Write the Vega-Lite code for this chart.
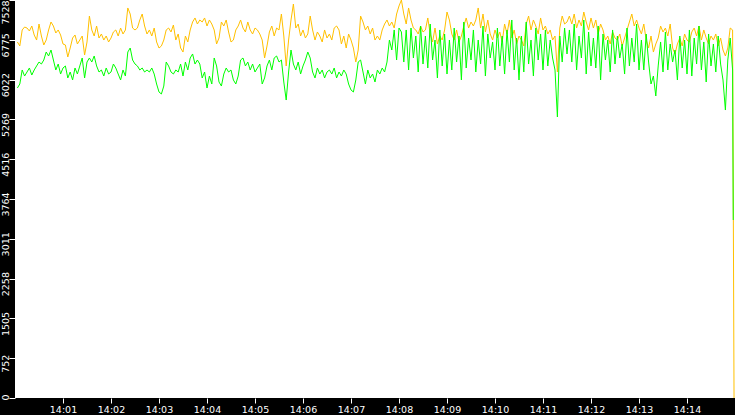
{
"$schema": "https://vega.github.io/schema/vega-lite/v6.json",
"width": 720, "height": 398,
"autosize": {"type": "none"},
"padding": {"left": 15, "top": 0, "right": 0, "bottom": 17},
"background": "black",
"config": {
  "view": {"fill": "white", "stroke": null},
  "line": {"invalid": "filter"},
  "axisX": {"title": null, "grid": false, "domain": false,
            "tickColor": "white", "tickSize": 5, "tickWidth": 1,
            "labelColor": "white", "labelFont": "DejaVu Sans", "labelFontSize": 9.5,
            "labelPadding": 1, "labelOverlap": false, "labelBound": false, "labelFlush": false},
  "axisY": {"title": null, "grid": false, "domain": false,
            "tickColor": "white", "tickSize": 6, "tickWidth": 1,
            "labelColor": "white", "labelFont": "DejaVu Sans", "labelFontSize": 9.5,
            "labelAngle": 270, "labelAlign": "center", "labelBaseline": "alphabetic",
            "labelPadding": 1, "labelOverlap": false, "labelBound": false, "labelFlush": false,
            "labelOffset": {"condition": [{"test": "datum.value == 7528", "value": 12}, {"test": "datum.value == 0", "value": -1}], "value": 5}}
},
"data": {"values": [
{"t":3,"o":6734,"g":5863},{"t":6,"o":6658,"g":5939},{"t":9,"o":6961,"g":6204},{"t":12,"o":7017,"g":6090},{"t":15,"o":6998,"g":6166},{"t":18,"o":6942,"g":6242},{"t":21,"o":7036,"g":6109},{"t":24,"o":6866,"g":6204},{"t":27,"o":6771,"g":6280},{"t":30,"o":7074,"g":6355},
{"t":33,"o":6847,"g":6317},{"t":36,"o":6677,"g":6393},{"t":39,"o":6771,"g":6544},{"t":42,"o":6961,"g":6469},{"t":45,"o":7112,"g":6582},{"t":48,"o":7036,"g":6393},{"t":51,"o":6904,"g":6204},{"t":54,"o":6961,"g":6317},{"t":57,"o":6866,"g":6128},{"t":60,"o":6696,"g":6242},
{"t":63,"o":6677,"g":6280},{"t":66,"o":6450,"g":6053},{"t":69,"o":6620,"g":6166},{"t":72,"o":6809,"g":6015},{"t":75,"o":6866,"g":6242},{"t":78,"o":6696,"g":6128},{"t":81,"o":6771,"g":6280},{"t":84,"o":6847,"g":6431},{"t":87,"o":6488,"g":6053},{"t":90,"o":6734,"g":6355},
{"t":93,"o":7225,"g":6431},{"t":96,"o":6961,"g":6355},{"t":99,"o":6847,"g":6469},{"t":102,"o":7036,"g":6280},{"t":105,"o":6809,"g":6166},{"t":108,"o":6885,"g":6204},{"t":111,"o":6771,"g":6090},{"t":114,"o":6847,"g":6242},{"t":117,"o":6734,"g":6128},{"t":120,"o":6809,"g":6166},
{"t":123,"o":6923,"g":6317},{"t":126,"o":6961,"g":6242},{"t":129,"o":6847,"g":6128},{"t":132,"o":6998,"g":6015},{"t":135,"o":6885,"g":6204},{"t":138,"o":6961,"g":6090},{"t":141,"o":7377,"g":6544},{"t":144,"o":7263,"g":6620},{"t":147,"o":6998,"g":6393},{"t":150,"o":6961,"g":6317},
{"t":153,"o":6998,"g":6280},{"t":156,"o":7150,"g":6204},{"t":159,"o":7263,"g":6242},{"t":162,"o":7036,"g":6166},{"t":165,"o":6885,"g":6204},{"t":168,"o":6961,"g":6166},{"t":171,"o":6847,"g":6242},{"t":174,"o":6998,"g":6128},{"t":177,"o":6734,"g":5939},{"t":180,"o":6620,"g":5788},
{"t":183,"o":6658,"g":5750},{"t":186,"o":6771,"g":5901},{"t":189,"o":6961,"g":6355},{"t":192,"o":6998,"g":6280},{"t":195,"o":6923,"g":6166},{"t":198,"o":7055,"g":6128},{"t":201,"o":6771,"g":6204},{"t":204,"o":6885,"g":6166},{"t":207,"o":6620,"g":6317},{"t":210,"o":6544,"g":6090},
{"t":213,"o":6847,"g":6355},{"t":216,"o":6734,"g":6204},{"t":219,"o":6961,"g":6431},{"t":222,"o":7112,"g":6507},{"t":225,"o":7188,"g":6317},{"t":228,"o":7074,"g":6393},{"t":231,"o":7150,"g":6317},{"t":234,"o":7112,"g":6053},{"t":237,"o":7188,"g":6166},{"t":240,"o":7036,"g":5863},
{"t":243,"o":7150,"g":6090},{"t":246,"o":7074,"g":5939},{"t":249,"o":6961,"g":6431},{"t":252,"o":6696,"g":6280},{"t":255,"o":6809,"g":5977},{"t":258,"o":7112,"g":5901},{"t":261,"o":7036,"g":6128},{"t":264,"o":7150,"g":6242},{"t":267,"o":6923,"g":6166},{"t":270,"o":6734,"g":6204},
{"t":273,"o":6771,"g":6015},{"t":276,"o":6961,"g":5939},{"t":279,"o":7036,"g":6090},{"t":282,"o":7150,"g":6393},{"t":285,"o":6998,"g":6431},{"t":288,"o":6923,"g":6280},{"t":291,"o":7112,"g":6355},{"t":294,"o":6961,"g":6204},{"t":297,"o":6885,"g":6317},{"t":300,"o":6998,"g":6166},
{"t":303,"o":6961,"g":6242},{"t":306,"o":6885,"g":6317},{"t":309,"o":6771,"g":5939},{"t":312,"o":6431,"g":6053},{"t":315,"o":6658,"g":6280},{"t":318,"o":6923,"g":6393},{"t":321,"o":7036,"g":6204},{"t":324,"o":6847,"g":6431},{"t":327,"o":6998,"g":6469},{"t":330,"o":6961,"g":6355},
{"t":333,"o":7263,"g":6393},{"t":336,"o":6847,"g":5977},{"t":339,"o":6280,"g":5636},{"t":342,"o":6771,"g":6166},{"t":345,"o":7150,"g":6582},{"t":348,"o":7452,"g":6317},{"t":351,"o":6998,"g":6204},{"t":354,"o":7074,"g":6355},{"t":357,"o":6847,"g":6128},{"t":360,"o":6961,"g":6280},
{"t":363,"o":6809,"g":6393},{"t":366,"o":6885,"g":6544},{"t":369,"o":7225,"g":6431},{"t":372,"o":6961,"g":6166},{"t":375,"o":6771,"g":6053},{"t":378,"o":6923,"g":6242},{"t":381,"o":6847,"g":6128},{"t":384,"o":6734,"g":6204},{"t":387,"o":6961,"g":6053},{"t":390,"o":6809,"g":6166},
{"t":393,"o":6885,"g":6204},{"t":396,"o":6771,"g":6128},{"t":399,"o":6998,"g":6242},{"t":402,"o":7036,"g":6053},{"t":405,"o":6961,"g":6166},{"t":408,"o":6696,"g":6090},{"t":411,"o":6847,"g":6204},{"t":414,"o":6620,"g":6128},{"t":417,"o":6885,"g":5939},{"t":420,"o":6771,"g":5826},
{"t":423,"o":6620,"g":5788},{"t":426,"o":6355,"g":6015},{"t":429,"o":6582,"g":6355},{"t":432,"o":7225,"g":6393},{"t":435,"o":7112,"g":6166},{"t":438,"o":6961,"g":5939},{"t":441,"o":7036,"g":6204},{"t":444,"o":6885,"g":6053},{"t":447,"o":6998,"g":6128},{"t":450,"o":6771,"g":5977},
{"t":453,"o":6847,"g":6204},{"t":456,"o":6771,"g":6128},{"t":459,"o":6961,"g":6242},{"t":462,"o":7074,"g":6166},{"t":465,"o":7150,"g":6355},{"t":468,"o":7036,"g":6771},{"t":471,"o":7112,"g":6582},{"t":474,"o":6998,"g":6961},{"t":477,"o":7263,"g":6393},{"t":480,"o":7415,"g":6998},
{"t":483,"o":7528,"g":6923},{"t":486,"o":7263,"g":6355},{"t":489,"o":7074,"g":6961},{"t":492,"o":7377,"g":6204},{"t":495,"o":7150,"g":6998},{"t":498,"o":6998,"g":6431},{"t":501,"o":6961,"g":6847},{"t":504,"o":6885,"g":6166},{"t":507,"o":7036,"g":7036},{"t":510,"o":6923,"g":6317},
{"t":513,"o":6961,"g":6847},{"t":516,"o":7188,"g":6242},{"t":519,"o":6885,"g":7074},{"t":522,"o":6734,"g":6393},{"t":525,"o":6998,"g":6771},{"t":528,"o":6696,"g":6053},{"t":531,"o":6847,"g":6961},{"t":534,"o":6771,"g":6280},{"t":537,"o":6961,"g":6885},{"t":540,"o":7301,"g":6128},
{"t":543,"o":7150,"g":6771},{"t":546,"o":6885,"g":6204},{"t":549,"o":6771,"g":6998},{"t":552,"o":6961,"g":6355},{"t":555,"o":6734,"g":6847},{"t":558,"o":6847,"g":6015},{"t":561,"o":7036,"g":7112},{"t":564,"o":7188,"g":6242},{"t":567,"o":6998,"g":6809},{"t":570,"o":7112,"g":6393},
{"t":573,"o":7036,"g":6961},{"t":576,"o":7150,"g":6166},{"t":579,"o":7377,"g":6771},{"t":582,"o":6998,"g":6317},{"t":585,"o":7263,"g":7036},{"t":588,"o":6923,"g":6090},{"t":591,"o":7150,"g":6885},{"t":594,"o":6885,"g":6431},{"t":597,"o":6771,"g":6734},{"t":600,"o":6961,"g":6204},
{"t":603,"o":6809,"g":6998},{"t":606,"o":6923,"g":6280},{"t":609,"o":6734,"g":6847},{"t":612,"o":7074,"g":6128},{"t":615,"o":6885,"g":6961},{"t":618,"o":7150,"g":6355},{"t":621,"o":6809,"g":7150},{"t":624,"o":6961,"g":6204},{"t":627,"o":6696,"g":6809},{"t":630,"o":6847,"g":6015},
{"t":633,"o":6771,"g":6847},{"t":636,"o":6658,"g":6166},{"t":639,"o":7074,"g":7112},{"t":642,"o":7225,"g":6317},{"t":645,"o":6961,"g":6771},{"t":648,"o":7150,"g":6090},{"t":651,"o":7036,"g":6998},{"t":654,"o":6885,"g":6393},{"t":657,"o":7188,"g":6885},{"t":660,"o":6961,"g":6204},
{"t":663,"o":7036,"g":6961},{"t":666,"o":6885,"g":6280},{"t":669,"o":6961,"g":6771},{"t":672,"o":6771,"g":6431},{"t":675,"o":6847,"g":6204},{"t":678,"o":6166,"g":5315},{"t":681,"o":6998,"g":6847},{"t":684,"o":7225,"g":6355},{"t":687,"o":7074,"g":6998},{"t":690,"o":7112,"g":6507},
{"t":693,"o":7225,"g":6961},{"t":696,"o":7074,"g":6355},{"t":699,"o":7263,"g":7074},{"t":702,"o":6998,"g":6204},{"t":705,"o":7150,"g":6847},{"t":708,"o":7036,"g":6431},{"t":711,"o":7301,"g":7150},{"t":714,"o":7112,"g":6128},{"t":717,"o":6961,"g":6923},{"t":720,"o":7188,"g":6280},
{"t":723,"o":6998,"g":6809},{"t":726,"o":7150,"g":6242},{"t":729,"o":6885,"g":7036},{"t":732,"o":7074,"g":6015},{"t":735,"o":6961,"g":6885},{"t":738,"o":6771,"g":6393},{"t":741,"o":6847,"g":6771},{"t":744,"o":6696,"g":6166},{"t":747,"o":6923,"g":6961},{"t":750,"o":6809,"g":6317},
{"t":753,"o":6771,"g":6847},{"t":756,"o":6885,"g":6431},{"t":759,"o":6658,"g":6696},{"t":762,"o":6809,"g":6128},{"t":765,"o":6961,"g":6998},{"t":768,"o":7112,"g":6280},{"t":771,"o":7263,"g":6809},{"t":774,"o":7036,"g":6355},{"t":777,"o":7150,"g":7074},{"t":780,"o":6998,"g":6204},
{"t":783,"o":6885,"g":6771},{"t":786,"o":7074,"g":6204},{"t":789,"o":6771,"g":6885},{"t":792,"o":6620,"g":6355},{"t":795,"o":6847,"g":5939},{"t":798,"o":6544,"g":6090},{"t":801,"o":6696,"g":5712},{"t":804,"o":6809,"g":6280},{"t":807,"o":7036,"g":6734},{"t":810,"o":6923,"g":6166},
{"t":813,"o":6998,"g":6923},{"t":816,"o":6847,"g":6204},{"t":819,"o":7074,"g":6696},{"t":822,"o":6620,"g":6355},{"t":825,"o":6507,"g":6582},{"t":828,"o":6696,"g":6015},{"t":831,"o":6809,"g":6847},{"t":834,"o":6658,"g":6242},{"t":837,"o":6885,"g":6771},{"t":840,"o":6771,"g":6128},
{"t":843,"o":6734,"g":6961},{"t":846,"o":6923,"g":6090},{"t":849,"o":6998,"g":6809},{"t":852,"o":6847,"g":6317},{"t":855,"o":7036,"g":7036},{"t":858,"o":6771,"g":6204},{"t":861,"o":6961,"g":6734},{"t":864,"o":6809,"g":5977},{"t":867,"o":6696,"g":6885},{"t":870,"o":6847,"g":6280},
{"t":873,"o":6771,"g":6696},{"t":876,"o":6885,"g":6166},{"t":879,"o":6658,"g":6847},{"t":882,"o":6809,"g":6317},{"t":885,"o":6582,"g":6015},{"t":888,"o":6469,"g":5447},{"t":891,"o":6620,"g":6393},{"t":894,"o":6998,"g":6809},{"t":897,"o":6961,"g":6204},
{"t":897.8,"g":3367},{"t":898.8,"o":0}
]},
"encoding": {
  "x": {"field": "t", "type": "quantitative",
        "scale": {"domain": [0, 900], "nice": false, "zero": false},
        "axis": {"values": [60,120,180,240,300,360,420,480,540,600,660,720,780,840],
                 "labelExpr": "'14:' + (datum.value < 600 ? '0' : '') + (datum.value / 60)"}}
},
"layer": [
  {"mark": {"type": "line", "color": "#FFC000", "strokeWidth": 1, "invalid": "filter"},
   "encoding": {"y": {"field": "o", "type": "quantitative",
        "scale": {"domain": [0, 7528], "nice": false},
        "axis": {"values": [0,752,1505,2258,3011,3764,4516,5269,6022,6775,7528], "format": "d"}}}},
  {"mark": {"type": "line", "color": "#00FF00", "strokeWidth": 1, "invalid": "filter"},
   "encoding": {"y": {"field": "g", "type": "quantitative",
        "axis": {"values": [0,752,1505,2258,3011,3764,4516,5269,6022,6775,7528], "format": "d"}}}}
]
}
